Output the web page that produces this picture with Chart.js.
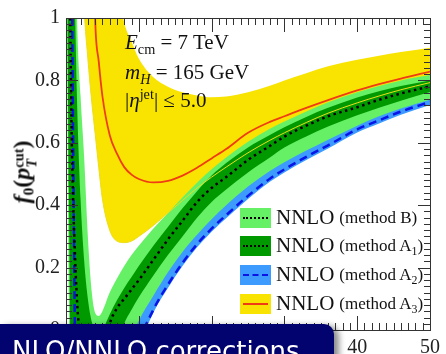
<!DOCTYPE html>
<html><head><meta charset="utf-8">
<script src="https://cdn.jsdelivr.net/npm/chart.js"></script>
<style>
html,body{margin:0;padding:0;background:#fff;}
#wrap{position:relative;width:446px;height:354px;overflow:hidden;background:#fff;}
#c{position:absolute;left:0;top:0;}
.ov{position:absolute;white-space:nowrap;font-family:"Liberation Serif","DejaVu Serif",serif;color:#111;line-height:1;}
.ov sub,.ov sup{line-height:0;font-size:0.68em;}
.ann{font-size:21px;}
.leg{position:absolute;left:240px;height:21px;display:flex;align-items:center;white-space:nowrap;font-family:"Liberation Serif",serif;color:#111;}
.sw{position:relative;width:31px;height:20px;margin-right:5px;}
.sw i{position:absolute;left:3px;right:3px;top:9px;height:0;}
.leg .big{font-size:21px;}
.leg .sm{font-size:17px;margin-left:5px;}
.leg sub{font-size:0.7em;line-height:0;}
#box{position:absolute;left:0;top:324px;width:334px;height:40px;background:#03036f;border-top-right-radius:10px;box-shadow:5px 2px 6px rgba(0,0,0,0.45);}
#boxtxt{position:absolute;left:12px;top:14px;font-family:"DejaVu Sans",sans-serif;font-size:26px;line-height:1;color:#fff;white-space:nowrap;}
</style></head><body>
<div id="wrap">
<canvas id="c" width="446" height="354"></canvas>
<div class="ov" id="ytitle" style="left:24px;top:172px;transform:translate(-50%,-50%) rotate(-90deg);font-size:24px;font-weight:bold;"><i>f</i><span style="font-size:0.65em;vertical-align:-0.25em;">0</span>(<i>p</i><span style="display:inline-block;vertical-align:-0.5em;line-height:0.9;font-size:0.6em;text-align:left;"><span>cut</span><br><i>T</i></span>)</div>
<div class="ov ann" style="left:125px;top:32px;"><i>E</i><sub>cm</sub> = 7 TeV</div>
<div class="ov ann" style="left:125px;top:62px;"><i>m<sub>H</sub></i> = 165 GeV</div>
<div class="ov ann" style="left:125px;top:90px;">|<i>η</i><sup>jet</sup>| ≤ 5.0</div>
<div class="leg" style="top:207px;"><div class="sw" style="background:#66f066;"><i style="border-top:2.5px dotted #000;"></i></div><span class="big">NNLO</span><span class="sm">(method B)</span></div>
<div class="leg" style="top:235px;"><div class="sw" style="background:#009a00;"><i style="border-top:2.5px dotted #000;"></i></div><span class="big">NNLO</span><span class="sm">(method A<sub>1</sub>)</span></div>
<div class="leg" style="top:264px;"><div class="sw" style="background:#3d9bff;"><i style="border-top:2.5px dashed #0a14e6;"></i></div><span class="big">NNLO</span><span class="sm">(method A<sub>2</sub>)</span></div>
<div class="leg" style="top:293px;"><div class="sw" style="background:#f8e400;"><i style="border-top:2px solid #f03c14;"></i></div><span class="big">NNLO</span><span class="sm">(method A<sub>3</sub>)</span></div>
<div id="box"><div id="boxtxt">NLO/NNLO corrections</div></div>
</div>
<script>
// transverse-momentum cut values (GeV)
const pT = [0, 0.2, 0.4, 0.6, 0.8, 1.0, 1.2, 1.5, 2, 2.5, 3, 3.5, 4, 4.5, 5, 6, 7, 8, 9, 10, 12, 14, 16, 18, 20, 22, 25, 28, 30, 33, 36, 40, 43, 46, 50];
// method B band (light green) and central value (shared dotted line with A1)
const methodB_upper = [6, 5, 4, 3.2, 2.6, 2.0, 1.5, 1.02, 0.75, 0.55, 0.3, 0.13, 0.055, 0.045, 0.06, 0.12, 0.165, 0.205, 0.24, 0.27, 0.325, 0.375, 0.425, 0.472, 0.515, 0.553, 0.603, 0.645, 0.668, 0.70, 0.73, 0.762, 0.782, 0.80, 0.817];
const methodB_lower = [1.6, 0.7, 0.1, -0.3, -0.6, -0.8, -0.9, -1.0, -1.1, -1.1, -1.1, -1.05, -1.0, -0.9, -0.8, -0.55, -0.3, -0.1, -0.025, 0.03, 0.11, 0.185, 0.25, 0.305, 0.355, 0.40, 0.46, 0.51, 0.538, 0.575, 0.61, 0.655, 0.685, 0.71, 0.738];
const central_B_A1 = [3, 2.2, 1.3, 0.95, 0.6, 0.4, 0.26, 0.1, -0.05, -0.15, -0.2, -0.22, -0.2, -0.15, -0.08, 0.02, 0.07, 0.1, 0.13, 0.16, 0.225, 0.29, 0.35, 0.41, 0.455, 0.49, 0.545, 0.59, 0.62, 0.655, 0.685, 0.714, 0.738, 0.758, 0.781];
// method A1 band (dark green)
const methodA1_upper = [8, 6, 4.5, 3.2, 2.2, 1.3, 1.08, 0.75, 0.42, 0.22, 0.1, 0.03, 0.0, -0.01, 0.0, 0.05, 0.095, 0.135, 0.17, 0.205, 0.27, 0.33, 0.39, 0.445, 0.495, 0.535, 0.585, 0.625, 0.65, 0.683, 0.712, 0.745, 0.765, 0.782, 0.80];
const methodA1_lower = [3, 1.15, 0.45, -0.05, -0.3, -0.45, -0.6, -0.7, -0.8, -0.8, -0.8, -0.75, -0.7, -0.6, -0.5, -0.2, -0.06, 0.02, 0.065, 0.105, 0.175, 0.24, 0.30, 0.36, 0.41, 0.45, 0.505, 0.553, 0.585, 0.62, 0.652, 0.688, 0.712, 0.735, 0.763];
// method A2 band (light blue) and central (blue dashed)
const methodA2_upper = [6, 5, 3.5, 2.4, 1.6, 0.9, 0.3, -0.15, -0.5, -0.7, -0.75, -0.75, -0.75, -0.7, -0.6, -0.4, -0.25, -0.12, -0.02, 0.06, 0.17, 0.25, 0.32, 0.38, 0.43, 0.47, 0.53, 0.58, 0.61, 0.645, 0.68, 0.72, 0.745, 0.765, 0.79];
const methodA2_lower = [4.8, 3.8, 2.6, 1.7, 1.1, 0.5, 0.0, -0.45, -0.85, -1.0, -1.05, -1.05, -1.05, -1.0, -0.95, -0.75, -0.55, -0.37, -0.2, -0.07, 0.055, 0.135, 0.205, 0.265, 0.315, 0.358, 0.42, 0.475, 0.505, 0.545, 0.582, 0.633, 0.662, 0.69, 0.721];
const methodA2_central = [5, 4, 2.8, 1.8, 1.15, 0.55, 0.05, -0.4, -0.8, -0.95, -1.0, -1.0, -1.0, -0.95, -0.9, -0.7, -0.5, -0.32, -0.17, -0.05, 0.065, 0.145, 0.215, 0.275, 0.325, 0.368, 0.43, 0.485, 0.515, 0.555, 0.592, 0.643, 0.672, 0.70, 0.731];
// method A3 band (yellow) and central (red)
const methodA3_upper = [40, 30, 22, 17, 13.5, 11, 9, 7, 5, 3.9, 3.2, 2.65, 2.2, 1.9, 1.7, 1.35, 1.12, 0.985, 0.925, 0.87, 0.81, 0.78, 0.762, 0.752, 0.746, 0.748, 0.762, 0.783, 0.80, 0.823, 0.845, 0.866, 0.879, 0.891, 0.905];
const methodA3_lower = [30, 20, 14, 10, 7.5, 5.5, 4, 2.6, 1.35, 1.03, 0.87, 0.74, 0.63, 0.52, 0.42, 0.32, 0.285, 0.28, 0.285, 0.30, 0.335, 0.375, 0.415, 0.455, 0.49, 0.522, 0.568, 0.608, 0.632, 0.665, 0.695, 0.728, 0.75, 0.77, 0.793];
const methodA3_central = [60, 45, 33, 25, 19, 15, 12, 9, 5.5, 3.5, 2.4, 1.6, 1.0, 0.86, 0.75, 0.625, 0.565, 0.522, 0.498, 0.484, 0.473, 0.478, 0.495, 0.52, 0.55, 0.58, 0.632, 0.667, 0.685, 0.712, 0.737, 0.768, 0.788, 0.806, 0.828];
// axis ticks
const xTickValues = [0, 10, 20, 30, 40, 50];
const xTickLabels = ['0', '10', '20', '30', '40', '50'];
const yTickValues = [0, 0.2, 0.4, 0.6, 0.8, 1];
const yTickLabels = ['0', '0.2', '0.4', '0.6', '0.8', '1'];

const pts = ys => pT.map((x, i) => ({x: x, y: ys[i]}));
const base = {pointRadius: 0, pointHoverRadius: 0, cubicInterpolationMode: 'monotone', clip: 0, borderColor: 'rgba(0,0,0,0)', borderWidth: 0, fill: false};
function band(lower, upper, color, order) {
  return [
    Object.assign({}, base, {data: pts(lower), order: order + 1}),
    Object.assign({}, base, {data: pts(upper), fill: '-1', backgroundColor: color, order: order})
  ];
}
function line(ys, color, width, dash, order) {
  return Object.assign({}, base, {data: pts(ys), borderColor: color, borderWidth: width, borderDash: dash, order: order});
}

const datasets = [].concat(
  band(methodA3_lower, methodA3_upper, '#f8e400', 100),
  band(methodA2_lower, methodA2_upper, '#3d9bff', 90),
  band(methodB_lower, methodB_upper, '#66f066', 80),
  band(methodA1_lower, methodA1_upper, '#009a00', 70),
  [line(methodA3_lower, '#ecdc1c', 1, [], 60),
   line(methodA3_central, '#f03c14', 1.8, [], 50),
   line(methodA2_central, '#0a14e6', 2.5, [8, 5], 40),
   line(central_B_A1, '#000000', 2.5, [2.5, 3.5], 30)]
);

const framePlugin = {
  id: 'frame',
  afterDatasetsDraw(chart) {
    const {ctx, chartArea: a, scales: {x, y}} = chart;
    ctx.save();
    ctx.strokeStyle = '#333';
    ctx.lineWidth = 1;
    ctx.beginPath();
    for (let v = 0; v <= 50; v++) {
      const px = Math.round(x.getPixelForValue(v)) + 0.5;
      const len = v % 10 === 0 ? 14 : 7;
      ctx.moveTo(px, a.top); ctx.lineTo(px, a.top + len);
      ctx.moveTo(px, a.bottom); ctx.lineTo(px, a.bottom - len);
    }
    for (let k = 0; k <= 50; k++) {
      const py = Math.round(y.getPixelForValue(k * 0.02)) + 0.5;
      const len = k % 10 === 0 ? 12 : 6;
      ctx.moveTo(a.left, py); ctx.lineTo(a.left + len, py);
      ctx.moveTo(a.right, py); ctx.lineTo(a.right - len, py);
    }
    ctx.stroke();
    ctx.strokeRect(Math.round(a.left) + 0.5, Math.round(a.top) + 0.5, Math.round(a.right - a.left), Math.round(a.bottom - a.top));
    ctx.restore();
  }
};

new Chart(document.getElementById('c'), {
  type: 'line',
  data: {datasets: datasets},
  options: {
    responsive: false, animation: false, devicePixelRatio: 1, events: [],
    layout: {padding: {top: 14, right: 15, left: 0, bottom: 0}},
    plugins: {legend: {display: false}, tooltip: {enabled: false}},
    scales: {
      x: {type: 'linear', min: 0, max: 50,
        afterBuildTicks: s => { s.ticks = xTickValues.map(v => ({value: v})); },
        afterFit: s => { s.height = 24; },
        ticks: {callback: (v, i) => xTickLabels[i], font: {family: 'Liberation Serif', size: 20}, color: '#222', padding: 6, maxRotation: 0, autoSkip: false},
        grid: {display: false, drawTicks: false}, border: {display: false}},
      y: {type: 'linear', min: 0, max: 1,
        afterBuildTicks: s => { s.ticks = yTickValues.map(v => ({value: v})); },
        afterFit: s => { s.width = 66; },
        ticks: {callback: (v, i) => yTickLabels[i], font: {family: 'Liberation Serif', size: 20}, color: '#222', padding: 6, autoSkip: false},
        grid: {display: false, drawTicks: false}, border: {display: false}}
    }
  },
  plugins: [framePlugin]
});
</script>
</body></html>
